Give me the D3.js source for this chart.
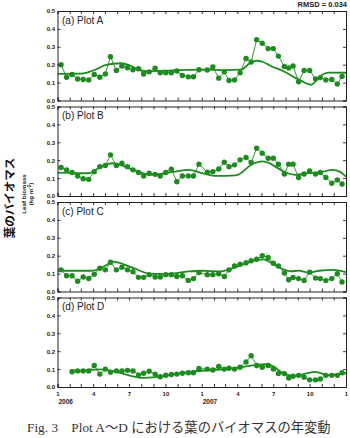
<!DOCTYPE html>
<html><head><meta charset="utf-8">
<script src="https://cdn.jsdelivr.net/npm/d3@7/dist/d3.min.js"></script>
<style>body{margin:0;background:#fff}svg{display:block}</style>
</head><body>
<svg id="c" width="350" height="438"></svg>
<script>
// ---------------- DATA ----------------
const obsDates = [
 "2006-01-10","2006-01-24","2006-02-07","2006-02-21","2006-03-07","2006-03-21","2006-04-04","2006-04-18","2006-05-02","2006-05-15",
 "2006-05-30","2006-06-13","2006-06-27","2006-07-11","2006-07-25","2006-08-07","2006-08-21","2006-09-05","2006-09-18","2006-10-02",
 "2006-10-16","2006-10-30","2006-11-13","2006-11-28","2006-12-11","2006-12-25","2007-01-15","2007-01-29","2007-02-13","2007-02-27",
 "2007-03-11","2007-03-25","2007-04-08","2007-04-23","2007-05-06","2007-05-20","2007-06-03","2007-06-18","2007-07-01","2007-07-14",
 "2007-07-29","2007-08-09","2007-08-20","2007-09-03","2007-09-17","2007-10-01","2007-10-16","2007-10-28","2007-11-11","2007-11-26",
 "2007-12-10","2007-12-22"];

const plotA = [0.20,0.13,0.145,0.12,0.117,0.115,0.145,0.13,0.148,0.245,
 0.168,0.193,0.183,0.172,0.177,0.148,0.16,0.18,0.155,0.155,
 0.155,0.165,0.14,0.132,0.133,0.172,0.17,0.188,0.125,0.16,
 0.112,0.115,0.155,0.235,0.215,0.34,0.32,0.29,0.29,0.248,
 0.19,0.182,0.193,0.105,0.168,0.168,0.12,0.128,0.115,0.118,
 0.092,0.135];
const plotB = [0.159,0.146,0.131,0.112,0.097,0.093,0.136,0.164,0.17,0.23,
 0.17,0.183,0.164,0.146,0.131,0.112,0.127,0.121,0.112,0.131,
 0.15,0.08,0.112,0.112,0.112,0.178,0.133,0.136,0.151,0.189,
 0.164,0.174,0.202,0.215,0.187,0.267,0.239,0.211,0.211,0.178,
 0.123,0.178,0.178,0.103,0.123,0.14,0.123,0.131,0.103,0.071,
 0.09,0.067];
const plotC = [0.121,0.088,0.088,0.057,0.081,0.073,0.097,0.13,0.121,0.163,
 0.121,0.136,0.121,0.11,0.079,0.079,0.094,0.081,0.081,0.094,
 0.094,0.084,0.088,0.062,0.072,0.106,0.094,0.094,0.099,0.084,
 0.121,0.143,0.152,0.161,0.172,0.18,0.2,0.19,0.158,0.143,
 0.103,0.066,0.078,0.072,0.062,0.108,0.075,0.072,0.061,0.072,
 0.099,0.053];
const plotD = [null,null,0.085,0.09,0.09,0.09,0.12,0.072,0.1,0.083,
 0.09,0.09,0.093,0.09,0.068,0.077,0.088,0.072,0.057,0.066,
 0.07,0.072,0.077,0.08,0.08,0.103,0.1,0.095,0.115,0.1,
 0.105,0.1,0.11,0.14,0.175,0.12,0.11,0.12,0.1,0.075,
 0.075,0.05,0.06,0.065,0.055,0.04,0.04,0.045,0.065,0.065,
 0.065,0.08];

// model (simulated) series: [date, value]
const modelA = [["2006-01-01",0.149],["2006-03-01",0.15],["2006-03-20",0.158],["2006-04-15",0.18],["2006-05-01",0.198],
 ["2006-06-10",0.208],["2006-07-01",0.198],["2006-07-25",0.172],["2006-08-20",0.162],["2006-09-15",0.165],["2006-11-01",0.17],
 ["2007-01-01",0.172],["2007-03-01",0.17],["2007-04-10",0.172],["2007-05-01",0.205],["2007-05-20",0.222],["2007-06-05",0.215],
 ["2007-06-25",0.193],["2007-07-28",0.162],["2007-09-03",0.118],["2007-10-05",0.088],["2007-10-28",0.137],["2007-11-18",0.156],
 ["2008-01-01",0.155]];
const modelB = [["2006-01-01",0.131],["2006-03-20",0.127],["2006-04-15",0.155],["2006-05-20",0.183],["2006-07-12",0.146],
 ["2006-08-25",0.118],["2006-10-25",0.136],["2006-11-28",0.146],["2007-01-04",0.127],["2007-02-07",0.112],["2007-03-28",0.115],
 ["2007-05-13",0.183],["2007-06-04",0.193],["2007-08-07",0.127],["2007-08-25",0.118],["2007-09-19",0.127],["2007-10-25",0.131],
 ["2007-11-28",0.146],["2007-12-16",0.136],["2008-01-01",0.108]];
const modelC = [["2006-01-01",0.116],["2006-03-28",0.116],["2006-05-13",0.158],["2006-05-21",0.167],["2006-07-13",0.13],
 ["2006-08-25",0.099],["2006-10-07",0.099],["2006-11-28",0.112],["2007-01-04",0.116],["2007-02-15",0.112],["2007-03-21",0.13],
 ["2007-05-20",0.176],["2007-06-04",0.18],["2007-07-20",0.13],["2007-08-15",0.112],["2007-09-03",0.117],["2007-09-28",0.106],
 ["2007-10-25",0.116],["2007-11-28",0.121],["2008-01-01",0.108]];
const modelD = [["2006-02-01",0.093],["2006-03-01",0.092],["2006-04-15",0.099],["2006-05-15",0.092],["2006-06-15",0.075],
 ["2006-07-10",0.06],["2006-08-07",0.051],["2006-09-05",0.055],["2006-10-15",0.068],["2006-11-15",0.08],["2006-12-15",0.088],
 ["2007-01-15",0.093],["2007-02-15",0.097],["2007-03-15",0.103],["2007-04-15",0.112],["2007-05-15",0.122],["2007-06-12",0.127],
 ["2007-07-01",0.115],["2007-07-20",0.085],["2007-08-24",0.062],["2007-09-20",0.075],["2007-10-15",0.084],["2007-11-19",0.066],
 ["2007-12-10",0.072],["2008-01-01",0.077]];

const panelLabels = ["(a) Plot A","(b) Plot B","(c) Plot C","(d) Plot D"];
const yTicks = [0,0.1,0.2,0.3,0.4,0.5];
const xTickLabelDates = ["2006-01-01","2006-04-01","2006-07-01","2006-10-01","2007-01-01","2007-04-01","2007-07-01","2007-10-01","2008-01-01"];
const yearLabels = [["2006-01-01","2006"],["2007-01-01","2007"]];
const rmsdText = "RMSD = 0.034";
const yTitle = "Leaf biomass";
const yTitleJa = "葉のバイオマス";
const caption = "Fig. 3\u3000Plot A～D における葉のバイオマスの年変動";

// ---------------- DRAW ----------------
const parse = d3.timeParse("%Y-%m-%d");
const svg = d3.select("#c");
const green = "#1c8c1f";
const ink = "#222";
const sans = "'Liberation Sans', Arial, sans-serif";
const x = d3.scaleTime().domain([parse("2006-01-01"), parse("2008-01-01")]).range([57.5, 346]);
const tops = [11, 106.5, 202, 297.5], ph = 89.5;
const obsList = [plotA, plotB, plotC, plotD];
const modelList = [modelA, modelB, modelC, modelD];

tops.forEach((top, i) => {
  const g = svg.append("g");
  const y = d3.scaleLinear().domain([0, 0.5]).range([top + ph, top]);
  const x0 = x.range()[0], x1 = x.range()[1];
  const clipId = "clip" + i;
  svg.append("clipPath").attr("id", clipId).append("rect")
    .attr("x", x0).attr("y", top).attr("width", x1 - x0).attr("height", ph);
  const plotG = g.append("g").attr("clip-path", `url(#${clipId})`);

  // model line
  plotG.append("path").datum(modelList[i])
    .attr("fill", "none").attr("stroke", green).attr("stroke-width", 1.8)
    .attr("d", d3.line().x(d => x(parse(d[0]))).y(d => y(d[1])).curve(d3.curveMonotoneX));

  // observations
  const pts = obsDates.map((d, j) => ({ date: parse(d), v: obsList[i][j] })).filter(p => p.v != null);
  plotG.append("path").datum(pts)
    .attr("fill", "none").attr("stroke", green).attr("stroke-width", 0.9)
    .attr("d", d3.line().x(d => x(d.date)).y(d => y(d.v)));
  plotG.selectAll("circle").data(pts).join("circle")
    .attr("cx", d => x(d.date)).attr("cy", d => y(d.v)).attr("r", 2.7).attr("fill", green);

  // axes
  const styleAxis = sel => {
    sel.selectAll(".domain").attr("stroke", ink).attr("stroke-width", 1);
    sel.selectAll(".tick line").attr("stroke", ink).attr("stroke-width", 0.9);
  };
  const la = g.append("g").attr("transform", `translate(${x0},0)`)
    .call(d3.axisLeft(y).tickValues(yTicks).tickSize(-3).tickPadding(2.5).tickFormat(d3.format(".1f")));
  styleAxis(la);
  la.selectAll("text").attr("font-family", sans).attr("font-size", 6).attr("font-weight", "bold").attr("fill", ink);
  const ra = g.append("g").attr("transform", `translate(${x1},0)`)
    .call(d3.axisRight(y).tickValues(yTicks).tickSize(-3).tickFormat(""));
  styleAxis(ra);
  const ta = g.append("g").attr("transform", `translate(0,${top})`)
    .call(d3.axisTop(x).ticks(d3.timeMonth.every(1)).tickSize(-3).tickFormat(""));
  styleAxis(ta);
  const ba = g.append("g").attr("transform", `translate(0,${top + ph})`)
    .call(d3.axisBottom(x).ticks(d3.timeMonth.every(1)).tickSize(-3).tickFormat(""));
  styleAxis(ba);

  g.append("text").attr("x", x0 + 4.5).attr("y", top + 12.5)
    .attr("font-family", sans).attr("font-size", 10).attr("fill", ink).text(panelLabels[i]);

  if (i === tops.length - 1) {
    const xl = g.append("g").attr("transform", `translate(0,${top + ph})`)
      .call(d3.axisBottom(x).tickValues(xTickLabelDates.map(parse)).tickSize(0).tickPadding(5)
        .tickFormat(d => d3.timeFormat("%-m")(d)));
    xl.select(".domain").remove();
    xl.selectAll("text").attr("font-family", sans).attr("font-size", 6).attr("font-weight", "bold").attr("fill", ink);
    g.selectAll(".year").data(yearLabels).join("text").attr("class", "year")
      .attr("x", d => x(parse(d[0])) + 1).attr("y", top + ph + 17)
      .attr("font-family", sans).attr("font-size", 6.5).attr("font-weight", "bold").attr("fill", ink)
      .text(d => d[1]);
  }
});

// RMSD
svg.append("text").attr("x", 347).attr("y", 7).attr("text-anchor", "end")
  .attr("font-family", sans).attr("font-size", 7.5).attr("font-weight", "bold").attr("fill", ink).text(rmsdText);

// y titles
const yc = 194;
svg.append("text").attr("transform", `translate(26,${yc}) rotate(-90)`).attr("text-anchor", "middle")
  .attr("font-family", sans).attr("font-size", 6.2).attr("font-weight", "bold").attr("fill", ink).text(yTitle);
const unit = svg.append("text").attr("transform", `translate(32.5,${yc}) rotate(-90)`).attr("text-anchor", "middle")
  .attr("font-family", sans).attr("font-size", 6.2).attr("font-weight", "bold").attr("fill", ink);
unit.append("tspan").text("(kg m");
unit.append("tspan").attr("dy", -2).attr("font-size", 4.5).text("-2");
unit.append("tspan").attr("dy", 2).text(")");
svg.append("text").attr("transform", `translate(14,198) rotate(-90)`).attr("text-anchor", "middle")
  .attr("font-family", "'Noto Sans CJK JP', sans-serif").attr("font-size", 11.5).attr("font-weight", "bold").attr("fill", "#111")
  .text(yTitleJa);

// caption
svg.append("text").attr("x", 27).attr("y", 432)
  .attr("font-family", "'Liberation Serif', 'Noto Sans CJK JP', serif").attr("font-size", 13.3).attr("fill", "#333")
  .text(caption);
</script>
</body></html>
